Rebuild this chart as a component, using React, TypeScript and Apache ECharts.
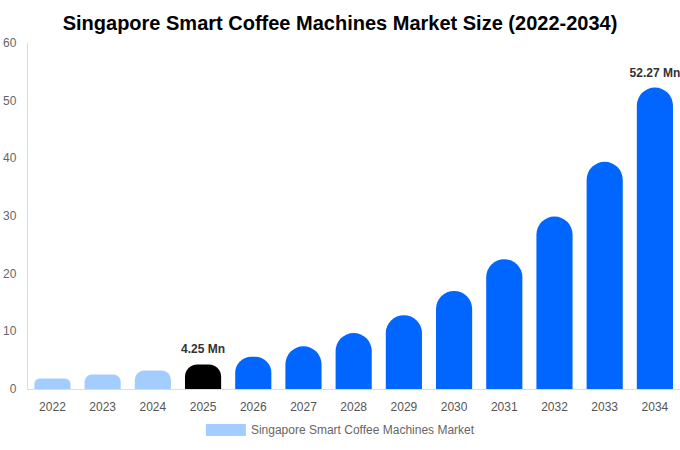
import React, { useEffect, useRef } from 'react';
import * as echarts from 'echarts';

const years = ['2022', '2023', '2024', '2025', '2026', '2027', '2028', '2029', '2030', '2031', '2032', '2033', '2034'];
const marketSize = [1.8, 2.5, 3.2, 4.25, 5.6, 7.4, 9.7, 12.8, 17.0, 22.5, 29.9, 39.4, 52.27];
const yTicks = [0, 10, 20, 30, 40, 50, 60];
const labelledYears = ['2025', '2034'];

const HISTORIC = '#a3cdfe';
const CURRENT = '#000000';
const FORECAST = '#0066ff';
const FONT = '"Liberation Sans", Arial, Helvetica, sans-serif';

const barColor = (year: string) => {
  const y = Number(year);
  if (y < 2025) return HISTORIC;
  if (y === 2025) return CURRENT;
  return FORECAST;
};

const App: React.FC = () => {
  const chartRef = useRef<HTMLDivElement>(null);

  useEffect(() => {
    document.body.style.margin = '0';
    if (!chartRef.current) return;
    const chart = echarts.init(chartRef.current, undefined, { renderer: 'svg' });

    const buildData = (radii?: number[]) =>
      marketSize.map((v, i) => ({
        value: v,
        itemStyle: {
          color: barColor(years[i]),
          borderRadius: radii ? [radii[i], radii[i], 0, 0] : [18, 18, 0, 0]
        },
        label: {
          show: labelledYears.includes(years[i]),
          position: 'top',
          distance: 9,
          formatter: (p: any) => `${p.value} Mn`,
          color: '#333',
          fontWeight: 'bold',
          fontSize: 12,
          fontFamily: FONT
        }
      }));

    const option: any = {
      animation: false,
      textStyle: { fontFamily: FONT },
      title: {
        text: 'Singapore Smart Coffee Machines Market Size (2022-2034)',
        left: 'center',
        top: 8,
        textStyle: { fontSize: 20, fontWeight: 'bold', color: '#000', fontFamily: FONT }
      },
      legend: {
        bottom: 9,
        left: 'center',
        itemWidth: 40,
        itemHeight: 12,
        itemGap: 6,
        icon: 'rect',
        textStyle: { color: '#666', fontSize: 12, fontFamily: FONT },
        data: [{ name: 'Singapore Smart Coffee Machines Market', itemStyle: { color: HISTORIC } }]
      },
      grid: { left: 27, right: 0, top: 43, bottom: 61, containLabel: false },
      xAxis: {
        type: 'category',
        data: years,
        axisLine: { show: true, lineStyle: { color: '#ddd' } },
        axisTick: { show: false },
        axisLabel: { color: '#555', fontSize: 12, margin: 12, fontFamily: FONT }
      },
      yAxis: {
        type: 'value',
        min: yTicks[0],
        max: yTicks[yTicks.length - 1],
        interval: 10,
        axisLine: { show: true, lineStyle: { color: '#ddd' } },
        axisTick: { show: false },
        splitLine: { show: false },
        axisLabel: { color: '#666', fontSize: 12, margin: 11, fontFamily: FONT }
      },
      series: [
        {
          name: 'Singapore Smart Coffee Machines Market',
          type: 'bar',
          barWidth: '72%',
          data: buildData()
        }
      ]
    };

    chart.setOption(option);

    // round the tops like a pill: radius is half the bar height, capped at half the bar width
    const zero = chart.convertToPixel({ yAxisIndex: 0 }, 0) as number;
    const radii = marketSize.map(v => {
      const h = zero - (chart.convertToPixel({ yAxisIndex: 0 }, v) as number);
      return Math.min(18, h / 2);
    });
    chart.setOption({ series: [{ data: buildData(radii) }] });

    const handleResize = () => chart.resize();
    window.addEventListener('resize', handleResize);
    return () => {
      window.removeEventListener('resize', handleResize);
      chart.dispose();
    };
  }, []);

  return <div ref={chartRef} style={{ width: 680, height: 450 }} />;
};

export default App;
